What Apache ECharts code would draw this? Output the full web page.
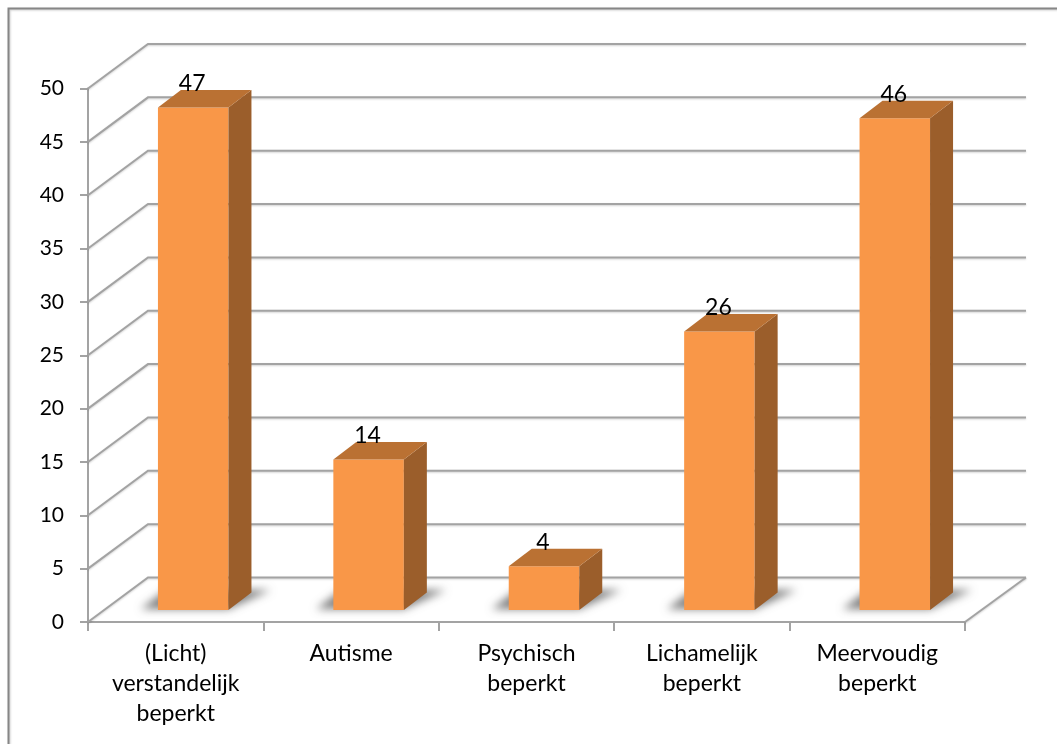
<!DOCTYPE html>
<html>
<head>
<meta charset="utf-8">
<style>html,body{margin:0;padding:0;background:#fff}#c{width:1057px;height:744px}</style>
<script src="https://cdn.jsdelivr.net/npm/echarts@6/dist/echarts.min.js"></script>
</head>
<body>
<div id="c"></div>
<script>
const categories = ["(Licht)\nverstandelijk\nbeperkt", "Autisme", "Psychisch\nbeperkt", "Lichamelijk\nbeperkt", "Meervoudig\nbeperkt"];
const values = [47, 14, 4, 26, 46];
const yTicks = [0, 5, 10, 15, 20, 25, 30, 35, 40, 45, 50];

const FONT = 'Lato';
const WALL_DX = 60, WALL_DY = -44.5;
const LINE = '#a3a3a3';
const lineStyle = {stroke: LINE, lineWidth: 2, fill: null, shadowColor: 'rgba(0,0,0,0.18)', shadowBlur: 2, shadowOffsetY: 1};

function renderWall(params, api) {
  const v = api.value(0);
  const w = api.size([1, 0])[0];
  const n = categories.length;
  const left = api.coord([0, v]);
  const x0 = left[0] - w / 2;
  const x1 = x0 + w * n;
  const y = left[1];
  const children = [{
    type: 'polyline',
    shape: {points: [[x0, y], [x0 + WALL_DX, y + WALL_DY], [x1 + WALL_DX + 1, y + WALL_DY]]},
    style: lineStyle
  }];
  if (v === 0) {
    children.push({
      type: 'line',
      shape: {x1: x1, y1: y, x2: x1 + WALL_DX + 1, y2: y + WALL_DY},
      style: {stroke: LINE, lineWidth: 2, shadowColor: 'rgba(0,0,0,0.18)', shadowBlur: 2, shadowOffsetY: 1}
    });
  }
  return {type: 'group', children};
}

function renderBar(params, api) {
  const i = api.value(0), v = api.value(1);
  const c = api.coord([i, v]);
  const base = api.coord([i, 0]);
  const w = api.size([1, 0])[0];
  const barW = w * 0.402;
  const x0 = c[0] - barW / 2 + 17.5;
  const x1 = x0 + barW;
  const yB = base[1] - 12;
  const yT = c[1] - 13;
  const dx = 23, dy = -17.5;
  const OFF = 3000;
  return {
    type: 'group',
    children: [
      {type: 'polygon', shape: {points: [[x0 - 17 - OFF, yB - 1], [x1 - OFF, yB - 1], [x1 + 42 - OFF, yB - 20], [x0 + 8 - OFF, yB - 20]]},
        style: {fill: '#666', shadowColor: 'rgba(95,95,95,0.8)', shadowBlur: 8, shadowOffsetX: OFF}},
      {type: 'rect', shape: {x: x0, y: yT, width: barW, height: yB - yT}, style: {fill: '#F99748'}},
      {type: 'polygon', shape: {points: [[x1, yT], [x1 + dx, yT + dy], [x1 + dx, yB + dy], [x1, yB]]}, style: {fill: '#9B5E2B'}},
      {type: 'polygon', shape: {points: [[x0, yT], [x0 + dx, yT + dy], [x1 + dx, yT + dy], [x1, yT]]}, style: {fill: '#BA7133'}},
      {type: 'text', x: (x0 + x1) / 2 - 1, y: yT - 24,
        style: {text: String(v), fill: '#000', font: '23px ' + FONT, textAlign: 'center', textVerticalAlign: 'middle'}}
    ]
  };
}

const chart = echarts.init(document.getElementById('c'), null, {renderer: 'canvas'});
chart.setOption({
  animation: false,
  backgroundColor: '#fff',
  grid: {left: 88, right: 92, top: 88.5, bottom: 122, containLabel: false},
  graphic: [
    {type: 'polyline', silent: true, z: 0, shape: {points: [[8.5, 744], [8.5, 8.5], [1057, 8.5]]},
      style: {stroke: '#868686', lineWidth: 2, fill: null, shadowColor: 'rgba(0,0,0,0.2)', shadowBlur: 2, shadowOffsetX: 1, shadowOffsetY: 1}}
  ],
  xAxis: {
    type: 'category',
    data: categories,
    axisLine: {lineStyle: {color: LINE, width: 2}},
    axisTick: {show: true, length: 9, lineStyle: {color: LINE, width: 2}},
    splitLine: {show: false},
    axisLabel: {interval: 0, color: '#000', fontFamily: FONT, fontSize: 23, lineHeight: 30, margin: 17, align: 'center', verticalAlign: 'top'}
  },
  yAxis: {
    type: 'value',
    min: 0,
    max: 50,
    interval: 5,
    axisLine: {show: true, lineStyle: {color: LINE, width: 2}},
    axisTick: {show: true, length: 8, lineStyle: {color: LINE, width: 2}},
    splitLine: {show: false},
    axisLabel: {color: '#000', fontFamily: FONT, fontSize: 21, margin: 24}
  },
  series: [
    {type: 'custom', name: 'wall', coordinateSystem: 'cartesian2d', silent: true, z: 1, clip: false,
      renderItem: renderWall, encode: {y: 0}, data: yTicks.map(v => [v])},
    {type: 'custom', name: 'bars', coordinateSystem: 'cartesian2d', silent: true, z: 3, clip: false,
      renderItem: renderBar, encode: {x: 0, y: 1}, data: values.map((v, i) => [i, v])}
  ]
});
</script>
</body>
</html>
